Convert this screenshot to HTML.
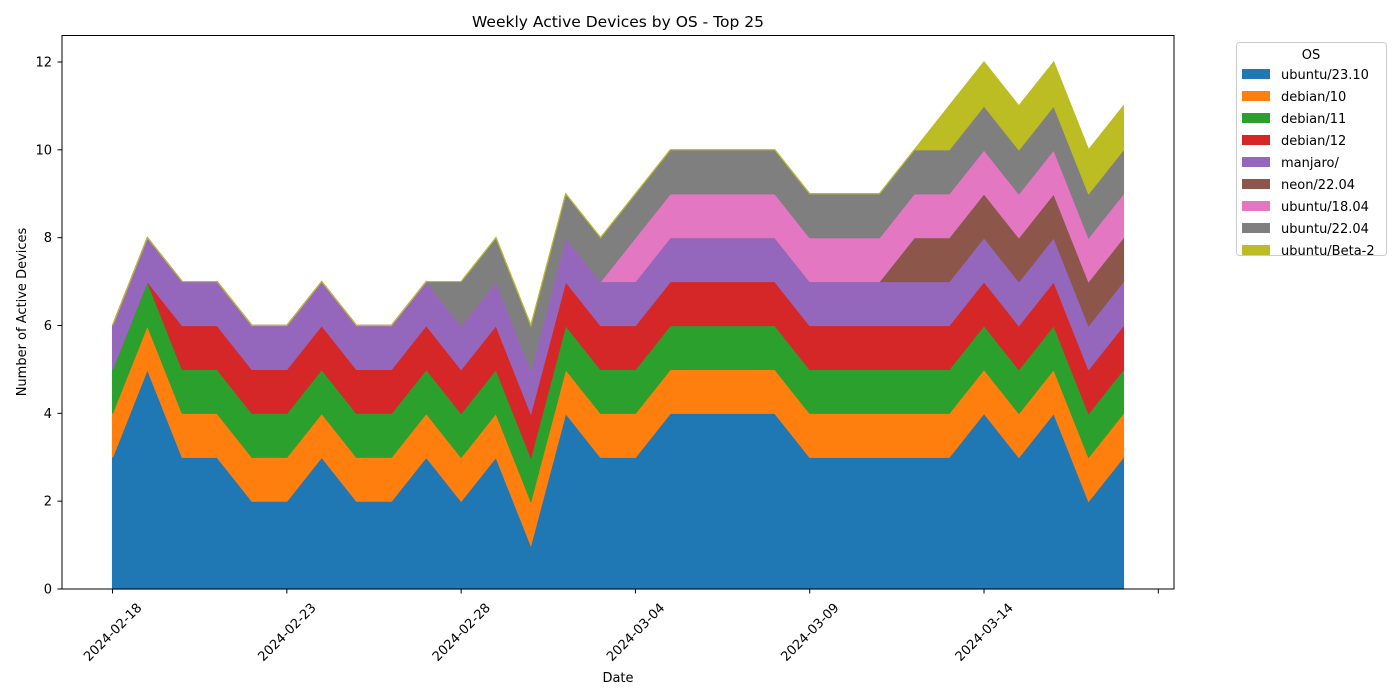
<!DOCTYPE html>
<html><head><meta charset="utf-8"><style>
html,body{margin:0;padding:0;background:#fff;}
svg{display:block;font-family:"DejaVu Sans","Liberation Sans",sans-serif;}
</style></head><body>
<svg id="chart" width="1400" height="700" viewBox="0 0 1400 700" xmlns="http://www.w3.org/2000/svg">
<rect x="0" y="0" width="1400" height="700" fill="#fff"/>
<text x="618" y="27" text-anchor="middle" font-size="15.5" fill="#000">Weekly Active Devices by OS - Top 25</text>
<g id="areas"></g>
<rect x="62" y="35.5" width="1112" height="553.5" fill="none" stroke="#000" stroke-width="1"/>
<g id="xaxis"></g>
<g id="yaxis"></g>
<text x="618" y="682" text-anchor="middle" font-size="13">Date</text>
<text transform="translate(26,312) rotate(-90)" text-anchor="middle" font-size="13">Number of Active Devices</text>
<g id="legend">
<rect x="1236.5" y="42.5" width="150" height="213" rx="3" fill="#fff" stroke="#ccc"/>
<text x="1311" y="59" text-anchor="middle" font-size="13">OS</text>
</g>
</svg>
<script>
const categories = ["2024-02-18","2024-02-19","2024-02-20","2024-02-21","2024-02-22","2024-02-23","2024-02-24","2024-02-25","2024-02-26","2024-02-27","2024-02-28","2024-02-29","2024-03-01","2024-03-02","2024-03-03","2024-03-04","2024-03-05","2024-03-06","2024-03-07","2024-03-08","2024-03-09","2024-03-10","2024-03-11","2024-03-12","2024-03-13","2024-03-14","2024-03-15","2024-03-16","2024-03-17","2024-03-18"];
const seriesNames = ["ubuntu/23.10","debian/10","debian/11","debian/12","manjaro/","neon/22.04","ubuntu/18.04","ubuntu/22.04","ubuntu/Beta-2"];
const seriesColors = ["#1f77b4","#ff7f0e","#2ca02c","#d62728","#9467bd","#8c564b","#e377c2","#7f7f7f","#bcbd22"];
const ubuntu2310 = [3,5,3,3,2,2,3,2,2,3,2,3,1,4,3,3,4,4,4,4,3,3,3,3,3,4,3,4,2,3];
const debian10   = [1,1,1,1,1,1,1,1,1,1,1,1,1,1,1,1,1,1,1,1,1,1,1,1,1,1,1,1,1,1];
const debian11   = [1,1,1,1,1,1,1,1,1,1,1,1,1,1,1,1,1,1,1,1,1,1,1,1,1,1,1,1,1,1];
const debian12   = [0,0,1,1,1,1,1,1,1,1,1,1,1,1,1,1,1,1,1,1,1,1,1,1,1,1,1,1,1,1];
const manjaro    = [1,1,1,1,1,1,1,1,1,1,1,1,1,1,1,1,1,1,1,1,1,1,1,1,1,1,1,1,1,1];
const neon2204   = [0,0,0,0,0,0,0,0,0,0,0,0,0,0,0,0,0,0,0,0,0,0,0,1,1,1,1,1,1,1];
const ubuntu1804 = [0,0,0,0,0,0,0,0,0,0,0,0,0,0,0,1,1,1,1,1,1,1,1,1,1,1,1,1,1,1];
const ubuntu2204 = [0,0,0,0,0,0,0,0,0,0,1,1,1,1,1,1,1,1,1,1,1,1,1,1,1,1,1,1,1,1];
const ubuntuBeta2= [0,0,0,0,0,0,0,0,0,0,0,0,0,0,0,0,0,0,0,0,0,0,0,0,1,1,1,1,1,1];
const yTicks = [0,2,4,6,8,10,12];
const xTickIdx = [0,5,10,15,20,25,30];
const xTickLabels = ["2024-02-18","2024-02-23","2024-02-28","2024-03-04","2024-03-09","2024-03-14",""];

const NS="http://www.w3.org/2000/svg";
const series=[ubuntu2310,debian10,debian11,debian12,manjaro,neon2204,ubuntu1804,ubuntu2204,ubuntuBeta2];
const n=categories.length;
const x0=62,x1=1174,y0=589,yTop=62;
const xmin=-0.05*(n-1), xmax=(n-1)*1.05;
const X=i=>x0+(i-xmin)/(xmax-xmin)*(x1-x0);
const Y=v=>y0-v/12*(y0-yTop);
function mk(tag,attrs,parent){const e=document.createElementNS(NS,tag);for(const k in attrs)e.setAttribute(k,attrs[k]);parent.appendChild(e);return e;}

const areas=document.getElementById('areas');
let base=new Array(n).fill(0);
series.forEach((s,k)=>{
  const top=base.map((b,i)=>b+s[i]);
  let pts=[];
  for(let i=0;i<n;i++)pts.push(X(i).toFixed(2)+","+Y(top[i]).toFixed(2));
  for(let i=n-1;i>=0;i--)pts.push(X(i).toFixed(2)+","+Y(base[i]).toFixed(2));
  const p=mk('polygon',{points:pts.join(" "),fill:seriesColors[k],stroke:seriesColors[k],'stroke-width':1.2,'stroke-linejoin':'miter'},areas);
  
  
  base=top;
});

const xa=document.getElementById('xaxis');
xTickIdx.forEach((t,j)=>{
  const x=X(t);
  const l=mk('line',{x1:x,y1:589,x2:x,y2:593.5,stroke:'#000'},xa);
  
  
  if(xTickLabels[j]){
    const tx=mk('text',{transform:`translate(${x},${632}) rotate(-45)`,x:0,y:4.5,'text-anchor':'middle','font-size':13},xa);
    tx.textContent=xTickLabels[j];
    
    
  }
});
const ya=document.getElementById('yaxis');
yTicks.forEach(v=>{
  const y=Y(v);
  const l=mk('line',{x1:57.5,y1:y,x2:62,y2:y,stroke:'#000'},ya);
  
  
  const tx=mk('text',{x:52,y:y+4.5,'text-anchor':'end','font-size':13},ya);
  tx.textContent=v;
  
  
});

const lg=document.getElementById('legend');
seriesNames.forEach((nm,k)=>{
  const y=69+k*22;
  const r=mk('rect',{x:1242,y:y,width:28,height:10,fill:seriesColors[k]},lg);
  
  
  const t=mk('text',{x:1281,y:y+10,'font-size':13},lg);
  t.textContent=nm;
  
  
});
</script>
</body></html>
